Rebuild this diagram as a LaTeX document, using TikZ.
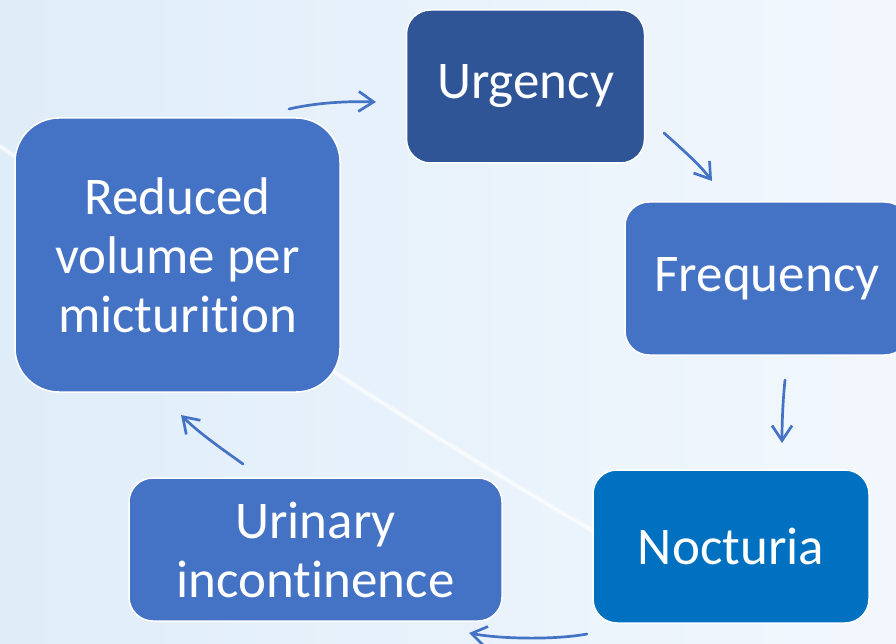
\documentclass[tikz,border=0pt]{standalone}
\usepackage{fontspec}
\setmainfont{Carlito}[Ligatures=NoCommon]
\usetikzlibrary{arrows.meta}
\definecolor{bgleft}{HTML}{DFEDF9}
\definecolor{bgright}{HTML}{F2F7FD}
\definecolor{boxblue}{HTML}{4472C4}
\definecolor{boxdark}{HTML}{2F5597}
\definecolor{boxnoct}{HTML}{0070C0}
\tikzset{
  cbox/.style={draw=white, line width=1.5pt, fill=boxblue, text=white, align=center,
    rounded corners=24pt, inner sep=0pt,
    font=\fontsize{53}{59}\selectfont},
  flow/.style={draw=boxblue, line width=2.7pt, line cap=round,
    -{Straight Barb[length=15pt,width=20pt,line width=2.7pt]}}
}
\begin{document}
\begin{tikzpicture}[x=1pt,y=-1pt]
\useasboundingbox (0,0) rectangle (896,644);
\clip (0,0) rectangle (896,644);
% background
\shade[left color=bgleft, right color=bgright] (0,0) rectangle (896,644);
\draw[white, opacity=.45, line width=5pt] (0,146) .. controls (150,250) and (350,390) .. (600,535);
\draw[white, opacity=.6, line width=1.5pt] (0,146) .. controls (150,250) and (350,390) .. (600,535);
% boxes
\node[cbox, fill=boxdark, minimum width=238pt, minimum height=153pt] (urg) at (525.5,86.5) {Urgency};
\node[cbox, minimum width=284pt, minimum height=153pt] (freq) at (767,278.5) {Frequency};
\node[cbox, fill=boxnoct, minimum width=276pt, minimum height=153pt] (noct) at (731,546.5) {Nocturia};
\node[cbox, minimum width=373pt, minimum height=143pt] (uri) at (315.5,549.5) {Urinary\\incontinence};
\node[cbox, rounded corners=44pt, minimum width=325pt, minimum height=274pt] (red) at (177.5,255) {Reduced\\volume per\\micturition};
% arrow ends
\coordinate (r1) at (289,109); \coordinate (u1) at (376,102);
\coordinate (u2) at (664,133); \coordinate (f1) at (712,181);
\coordinate (f2) at (785,380); \coordinate (n1) at (782,443);
\coordinate (n2) at (587,634); \coordinate (i1) at (469,633);
\coordinate (i2) at (243,464); \coordinate (r2) at (181,415);
% cycle
\draw[flow] (r1) .. controls (315,103) and (345,101) .. (u1);
\draw[flow] (u2) .. controls (682,149) and (700,165) .. (f1);
\draw[flow] (f2) .. controls (783,400) and (782,420) .. (n1);
\draw[flow] (n2) .. controls (555,640) and (500,639) .. (i1);
\draw[flow] (i2) .. controls (225,451) and (200,434) .. (r2);
\end{tikzpicture}
\end{document}
